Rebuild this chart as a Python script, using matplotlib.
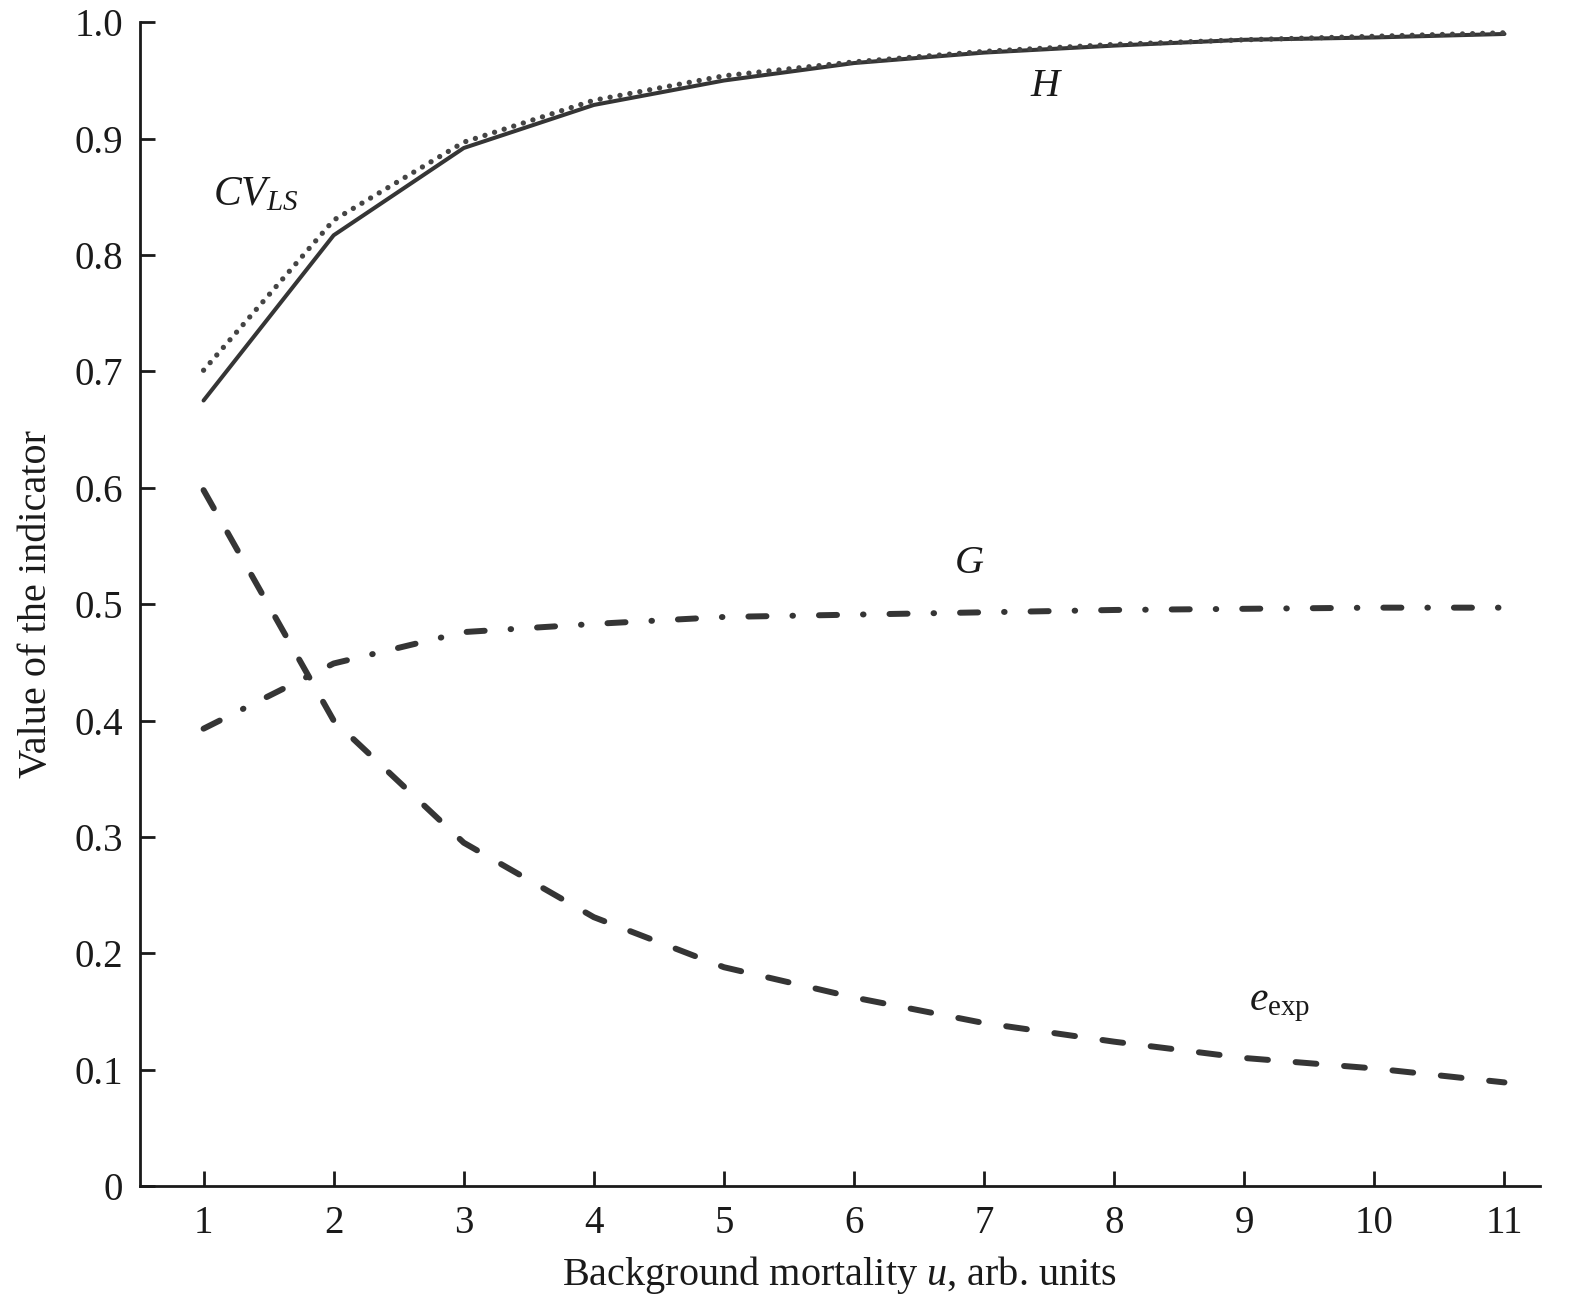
import numpy as np
import matplotlib
matplotlib.use("Agg")
from matplotlib import pyplot as plt

# values
u = [1, 2, 3, 4, 5, 6, 7, 8, 9, 10, 11]
H = [0.675, 0.817, 0.892, 0.929, 0.950, 0.965, 0.974, 0.980, 0.985, 0.987, 0.990]
CV_LS = [0.701, 0.830, 0.897, 0.933, 0.954, 0.966, 0.975, 0.981, 0.985, 0.988, 0.991]
G = [0.393, 0.449, 0.476, 0.483, 0.489, 0.491, 0.493, 0.495, 0.496, 0.497, 0.497]
e_exp = [0.598, 0.400, 0.295, 0.231, 0.188, 0.162, 0.140, 0.124, 0.110, 0.101, 0.089]
yticks = [0, 0.1, 0.2, 0.3, 0.4, 0.5, 0.6, 0.7, 0.8, 0.9, 1.0]
ytick_labels = ["0", "0.1", "0.2", "0.3", "0.4", "0.5", "0.6", "0.7", "0.8", "0.9", "1.0"]

plt.rcParams["font.family"] = "Liberation Serif"
plt.rcParams["mathtext.fontset"] = "custom"
plt.rcParams["mathtext.rm"] = "Liberation Serif"
plt.rcParams["mathtext.it"] = "Liberation Serif:italic"
plt.rcParams["lines.scale_dashes"] = False

col = "#353535"

fig = plt.figure(figsize=(15.71, 13.06), dpi=100)
ax = fig.add_axes([0.089, 0.0919, 0.891, 0.891])

ax.plot(u, H, color=col, lw=2.9, solid_capstyle="round")
ax.plot(u, CV_LS, color="#444444", lw=3.8, dashes=(0.05, 7.2), dash_capstyle="round")
ax.plot(u, G, color=col, lw=4.3, dashes=(13, 18.7, 0.4, 18.7), dash_capstyle="round")
ax.plot(u, e_exp, color=col, lw=4.3, dashes=(15, 20), dash_capstyle="round")

#curve labels
ax.text(1.07, 0.843, "$CV_{LS}$", fontsize=30, color="#1a1a1a")
ax.text(7.35, 0.937, "$H$", fontsize=29, color="#1a1a1a")
ax.text(6.77, 0.527, "$G$", fontsize=29, color="#1a1a1a")
ax.text(9.04, 0.151, r"$e_{\rm exp}$", fontsize=30, color="#1a1a1a")

ax.set_xlim(0.51, 11.27)
ax.set_ylim(0, 1.0)
ax.set_xticks(u)
ax.set_yticks(yticks)
ax.set_yticklabels(ytick_labels)
ax.tick_params(direction="in", length=11, width=2, labelsize=28, colors="#1a1a1a", pad=12)
ax.tick_params(axis="x", pad=14)
for s in ["top", "right"]:
	ax.spines[s].set_visible(False)
for s in ["left", "bottom"]:
	ax.spines[s].set_linewidth(2)
	ax.spines[s].set_color("#1a1a1a")

ax.set_xlabel("Background mortality $u$, arb. units", fontsize=29, color="#1a1a1a", labelpad=8)
ax.set_ylabel("Value of the indicator", fontsize=29, color="#1a1a1a", labelpad=14)

plt.savefig("out.png", dpi=100)
